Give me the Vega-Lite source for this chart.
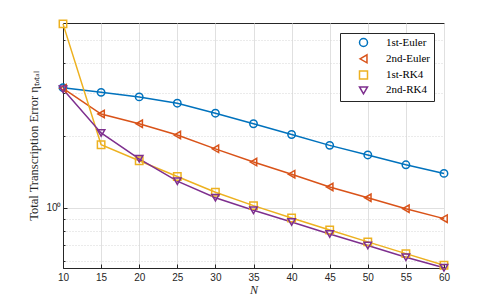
{
  "$schema": "https://vega.github.io/schema/vega-lite/v6.json",
  "width": 381,
  "height": 245,
  "autosize": {"type": "none"},
  "padding": {"left": 63, "top": 23, "right": 47, "bottom": 34},
  "background": "white",
  "config": {
    "view": {"stroke": "#262626", "strokeWidth": 1},
    "axis": {"domainColor": "#262626", "tickColor": "#262626", "labelColor": "#262626", "labelFont": "Liberation Sans", "labelFontSize": 10, "titleColor": "#262626"},
    "legend": {"labelFont": "Liberation Serif", "labelFontSize": 11, "labelColor": "#000000", "strokeColor": "#262626", "fillColor": "white", "padding": 4, "rowPadding": 1.3, "symbolSize": 64, "symbolStrokeWidth": 1.5, "symbolOffset": 14, "labelOffset": 17}
  },
  "data": {"values": [
    {"N": 10, "method": "1st-Euler", "err": 3.17},
    {"N": 15, "method": "1st-Euler", "err": 3.03},
    {"N": 20, "method": "1st-Euler", "err": 2.90},
    {"N": 25, "method": "1st-Euler", "err": 2.73},
    {"N": 30, "method": "1st-Euler", "err": 2.48},
    {"N": 35, "method": "1st-Euler", "err": 2.24},
    {"N": 40, "method": "1st-Euler", "err": 2.02},
    {"N": 45, "method": "1st-Euler", "err": 1.82},
    {"N": 50, "method": "1st-Euler", "err": 1.66},
    {"N": 55, "method": "1st-Euler", "err": 1.51},
    {"N": 60, "method": "1st-Euler", "err": 1.39},
    {"N": 10, "method": "2nd-Euler", "err": 3.15},
    {"N": 15, "method": "2nd-Euler", "err": 2.46},
    {"N": 20, "method": "2nd-Euler", "err": 2.24},
    {"N": 25, "method": "2nd-Euler", "err": 2.01},
    {"N": 30, "method": "2nd-Euler", "err": 1.76},
    {"N": 35, "method": "2nd-Euler", "err": 1.55},
    {"N": 40, "method": "2nd-Euler", "err": 1.38},
    {"N": 45, "method": "2nd-Euler", "err": 1.22},
    {"N": 50, "method": "2nd-Euler", "err": 1.10},
    {"N": 55, "method": "2nd-Euler", "err": 0.99},
    {"N": 60, "method": "2nd-Euler", "err": 0.90},
    {"N": 10, "method": "1st-RK4", "err": 5.85},
    {"N": 15, "method": "1st-RK4", "err": 1.83},
    {"N": 20, "method": "1st-RK4", "err": 1.57},
    {"N": 25, "method": "1st-RK4", "err": 1.35},
    {"N": 30, "method": "1st-RK4", "err": 1.16},
    {"N": 35, "method": "1st-RK4", "err": 1.02},
    {"N": 40, "method": "1st-RK4", "err": 0.906},
    {"N": 45, "method": "1st-RK4", "err": 0.807},
    {"N": 50, "method": "1st-RK4", "err": 0.72},
    {"N": 55, "method": "1st-RK4", "err": 0.643},
    {"N": 60, "method": "1st-RK4", "err": 0.575},
    {"N": 10, "method": "2nd-RK4", "err": 3.12},
    {"N": 15, "method": "2nd-RK4", "err": 2.05},
    {"N": 20, "method": "2nd-RK4", "err": 1.60},
    {"N": 25, "method": "2nd-RK4", "err": 1.29},
    {"N": 30, "method": "2nd-RK4", "err": 1.10},
    {"N": 35, "method": "2nd-RK4", "err": 0.975},
    {"N": 40, "method": "2nd-RK4", "err": 0.872},
    {"N": 45, "method": "2nd-RK4", "err": 0.777},
    {"N": 50, "method": "2nd-RK4", "err": 0.695},
    {"N": 55, "method": "2nd-RK4", "err": 0.621},
    {"N": 60, "method": "2nd-RK4", "err": 0.561}
  ]},
  "encoding": {
    "x": {"field": "N", "type": "quantitative", "scale": {"domain": [10, 60], "nice": false, "zero": false},
      "axis": {"values": [10, 15, 20, 25, 30, 35, 40, 45, 50, 55, 60], "title": "N", "titleFont": "Liberation Serif", "titleFontStyle": "italic", "titleFontWeight": "normal", "titleFontSize": 12, "titlePadding": 2, "tickSize": -4, "labelPadding": 8, "labelFlush": false, "labelOverlap": false, "gridColor": "#e0e0e0", "gridWidth": 1}},
    "y": {"field": "err", "type": "quantitative", "scale": {"type": "log", "domain": [0.56, 5.9], "nice": false},
      "axis": {"values": [0.6, 0.7, 0.8, 0.9, 1, 2, 3, 4, 5], "labelExpr": "datum.value == 1 ? '10⁰' : ''", "title": "Total Transcription Error ηₜₒₜₐₗ", "titleFont": "Liberation Serif", "titleFontWeight": "normal", "titleFontSize": 12.5, "titlePadding": 5, "tickSize": {"condition": {"test": "datum.value == 1", "value": -4}, "value": -2}, "labelPadding": 6,
        "gridColor": {"condition": {"test": "datum.value == 1", "value": "#e0e0e0"}, "value": "#d6d6d6"},
        "gridDash": {"condition": {"test": "datum.value == 1", "value": []}, "value": [1, 2]}}},
    "color": {"field": "method", "type": "nominal", "sort": ["1st-Euler", "2nd-Euler", "1st-RK4", "2nd-RK4"],
      "scale": {"domain": ["1st-Euler", "2nd-Euler", "1st-RK4", "2nd-RK4"], "range": ["#0072BD", "#D95319", "#EDB120", "#7E2F8E"]},
      "legend": {"title": null, "orient": "top-right", "offset": 10,
        "encode": {"symbols": {"update": {"shape": {"value": {"expr": "datum.value == '1st-Euler' ? 'M-4.6,0H4.6M0.85,0A0.85,0.85 0 1,1 -0.85,0A0.85,0.85 0 1,1 0.85,0' : datum.value == '2nd-Euler' ? 'M-4.6,0H4.6M-0.95,0L0.75,-0.95L0.75,0.95Z' : datum.value == '1st-RK4' ? 'M-4.6,0H4.6M-0.75,-0.75H0.75V0.75H-0.75Z' : 'M-4.6,0H4.6M-0.95,-0.75H0.95L0,0.95Z'"}}, "fill": {"value": "transparent"}}}}}},
    "shape": {"field": "method", "type": "nominal", "sort": ["1st-Euler", "2nd-Euler", "1st-RK4", "2nd-RK4"],
      "scale": {"domain": ["1st-Euler", "2nd-Euler", "1st-RK4", "2nd-RK4"], "range": ["circle", "triangle-left", "square", "triangle-down"]},
      "legend": null}
  },
  "layer": [
    {"mark": {"type": "line", "strokeWidth": 1.5}, "encoding": {"shape": null}},
    {"mark": {"type": "point", "filled": false, "strokeWidth": 1.5, "size": 55, "opacity": 1}}
  ]
}
